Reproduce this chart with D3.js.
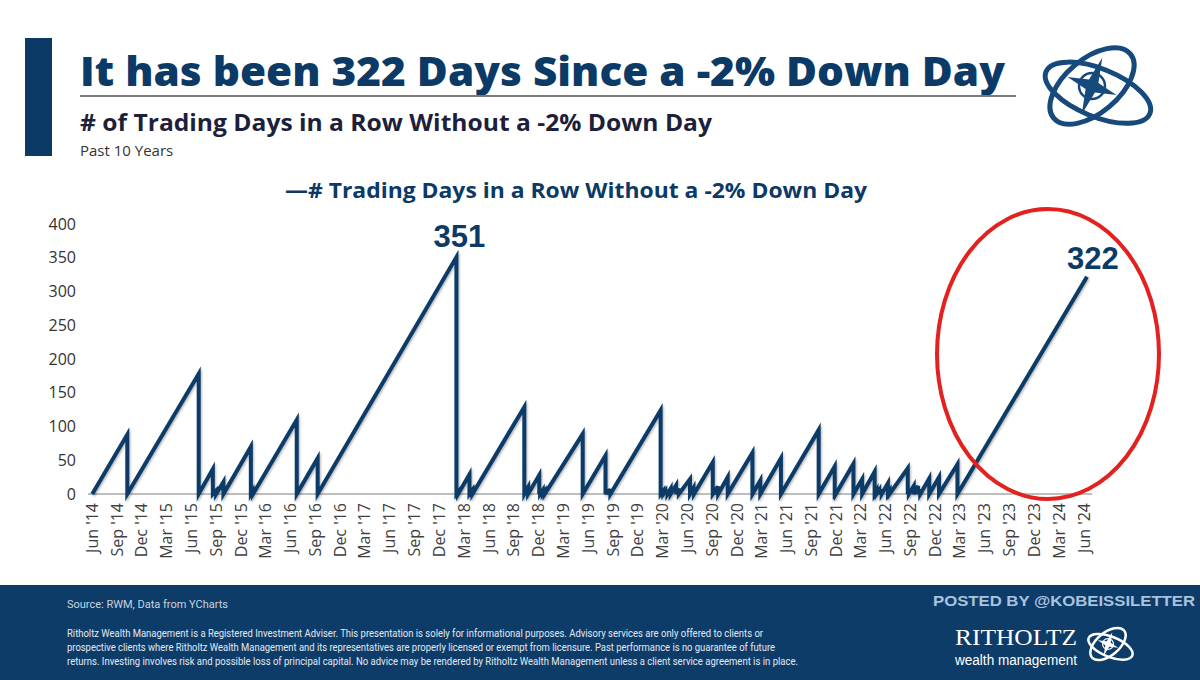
<!DOCTYPE html>
<html>
<head>
<meta charset="utf-8">
<script src="https://cdn.jsdelivr.net/npm/d3@7"></script>
<style>
body { margin: 0; background: #fff; }
</style>
</head>
<body>
<script>
//streak data
var startDate = "2014-06-02";
//days with a -2% drop and the streak count reached on that day
var dropDates = ["2014-10-09","2015-06-29","2015-08-20","2015-09-01","2015-09-28","2016-01-07","2016-01-13","2016-01-15",
    "2016-06-24","2016-09-09","2018-02-02","2018-02-08","2018-03-22","2018-04-02","2018-10-10","2018-10-24",
    "2018-12-04","2018-12-07","2018-12-17","2018-12-24","2019-05-13","2019-08-05","2019-08-14","2019-08-23",
    "2020-02-24","2020-03-05","2020-03-12","2020-03-20","2020-04-01","2020-04-21","2020-05-01","2020-06-11",
    "2020-06-24","2020-06-26","2020-09-03","2020-09-08","2020-09-23","2020-10-28","2021-01-27","2021-02-25",
    "2021-05-12","2021-09-28","2021-11-26","2021-11-30","2022-02-03","2022-03-07","2022-04-22","2022-04-29",
    "2022-05-09","2022-05-18","2022-06-10","2022-06-16","2022-08-22","2022-08-26","2022-09-13","2022-09-29",
    "2022-10-07","2022-11-09","2022-12-15","2023-02-21"];
var dropValues = [88, 178, 37, 5, 18, 70, 4, 2,
    110, 53, 351, 3, 29, 6, 129, 10,
    28, 3, 6, 4, 89, 57, 7, 7,
    124, 5, 4, 6, 8, 13, 8, 22,
    9, 2, 47, 3, 11, 25, 61, 20,
    53, 95, 41, 2, 45, 22, 33, 5,
    6, 7, 16, 4, 38, 4, 12, 12,
    6, 23, 25, 44];
var lastDate = "2024-06-12";
var lastValue = 322;

var xTickLabels = ["Jun '14","Sep '14","Dec '14",
    "Mar '15","Jun '15","Sep '15","Dec '15",
    "Mar '16","Jun '16","Sep '16","Dec '16",
    "Mar '17","Jun '17","Sep '17","Dec '17",
    "Mar '18","Jun '18","Sep '18","Dec '18",
    "Mar '19","Jun '19","Sep '19","Dec '19",
    "Mar '20","Jun '20","Sep '20","Dec '20",
    "Mar '21","Jun '21","Sep '21","Dec '21",
    "Mar '22","Jun '22","Sep '22","Dec '22",
    "Mar '23","Jun '23","Sep '23","Dec '23",
    "Mar '24","Jun '24"];
var yTicks = [0, 50, 100, 150, 200, 250, 300, 350, 400];

var disclaimer = [
    "Ritholtz Wealth Management is a Registered Investment Adviser. This presentation is solely for informational purposes. Advisory services are only offered to clients or",
    "prospective clients where Ritholtz Wealth Management and its representatives are properly licensed or exempt from licensure. Past performance is no guarantee of future",
    "returns. Investing involves risk and possible loss of principal capital. No advice may be rendered by Ritholtz Wealth Management unless a client service agreement is in place."
];

var w = 1200, h = 680;
var navy = "#0c3a66";

window.onload = function(){

    var parseDay = d3.timeParse("%Y-%m-%d");
    var parseTick = d3.timeParse("%b '%y");

    var svg = d3.select("body")
        .append("svg")
        .attr("width", w)
        .attr("height", h)
        .style("font-family", "'Open Sans', sans-serif");

    //shadow under the line
    var defs = svg.append("defs");
    defs.append("filter")
        .attr("id", "shadow")
        .attr("x", "-5%").attr("y", "-5%").attr("width", "110%").attr("height", "110%")
        .append("feDropShadow")
        .attr("dx", 1).attr("dy", 1.5)
        .attr("stdDeviation", 1.2)
        .attr("flood-color", "#000")
        .attr("flood-opacity", 0.3);

    //stretch a text to a given width
    function fit(sel, width){
        sel.attr("textLength", width).attr("lengthAdjust", "spacingAndGlyphs");
        return sel;
    }

    //header
    svg.append("rect")
        .attr("x", 25).attr("y", 38)
        .attr("width", 27).attr("height", 118)
        .style("fill", navy);

    fit(svg.append("text")
        .attr("x", 80).attr("y", 86)
        .style("font-size", "41px")
        .style("font-weight", 800)
        .style("fill", navy)
        .text("It has been 322 Days Since a -2% Down Day"), 925);

    svg.append("line")
        .attr("x1", 80).attr("x2", 1016)
        .attr("y1", 96).attr("y2", 96)
        .style("stroke", "#7a7a7a")
        .style("stroke-width", 2);

    fit(svg.append("text")
        .attr("x", 80).attr("y", 131)
        .style("font-size", "24px")
        .style("font-weight", 700)
        .style("fill", "#1d1f3b")
        .text("# of Trading Days in a Row Without a -2% Down Day"), 632);

    svg.append("text")
        .attr("x", 80).attr("y", 156)
        .style("font-size", "15px")
        .style("fill", "#333")
        .text("Past 10 Years");

    //logo, top right
    function drawLogo(g, color, sw){
        g.append("ellipse")
            .attr("rx", 50).attr("ry", 27)
            .attr("transform", "rotate(-40)")
            .style("fill", "none").style("stroke", color).style("stroke-width", sw);
        g.append("ellipse")
            .attr("cx", 8).attr("cy", 4)
            .attr("rx", 56).attr("ry", 24)
            .attr("transform", "rotate(22)")
            .style("fill", "none").style("stroke", color).style("stroke-width", sw);
        g.append("path")
            .attr("d", "M0,-30 L5,-5 L26,0 L5,5 L0,30 L-5,5 L-26,0 L-5,-5 Z")
            .attr("transform", "rotate(20)")
            .style("fill", color);
        g.append("circle")
            .attr("r", 13)
            .style("fill", "none").style("stroke", color).style("stroke-width", sw * 0.5);
    }
    drawLogo(svg.append("g").attr("transform", "translate(1092,86)"), "#174a7c", 5);

    //scales
    var x = d3.scaleTime()
        .domain([parseTick(xTickLabels[0]), parseTick(xTickLabels[xTickLabels.length - 1])])
        .range([92, 1084]);
    var y = d3.scaleLinear()
        .domain([0, 400])
        .range([494, 224]);

    //legend
    var legend = svg.append("text")
        .attr("x", 576).attr("y", 198)
        .attr("text-anchor", "middle")
        .style("font-size", "21px")
        .style("font-weight", 700)
        .style("fill", navy);
    fit(legend.text("\u2014# Trading Days in a Row Without a -2% Down Day"), 582);

    //y axis labels
    svg.append("g")
        .selectAll("text")
        .data(yTicks)
        .enter()
        .append("text")
        .attr("x", 76)
        .attr("y", function(d){ return y(d); })
        .attr("dy", "0.35em")
        .attr("text-anchor", "end")
        .style("font-size", "16px")
        .style("fill", "#333")
        .text(function(d){ return d; });

    //baseline
    svg.append("line")
        .attr("x1", 88).attr("x2", 1092)
        .attr("y1", y(0)).attr("y2", y(0))
        .style("stroke", "#7f7f7f")
        .style("stroke-width", 1.2);

    //x axis labels
    svg.append("g")
        .selectAll("text")
        .data(xTickLabels)
        .enter()
        .append("text")
        .attr("transform", function(d){
            return "translate(" + x(parseTick(d)) + "," + 503 + ") rotate(-90)";
        })
        .attr("dy", "0.36em")
        .attr("text-anchor", "end")
        .style("font-size", "16px")
        .style("fill", "#404040")
        .text(function(d){ return d; });

    //build the sawtooth line
    var pts = [{date: parseDay(startDate), value: 0}];
    dropDates.forEach(function(d, i){
        var dt = parseDay(d);
        pts.push({date: dt, value: dropValues[i]});
        pts.push({date: dt, value: 0});
    });
    var endPt = {date: parseDay(lastDate), value: lastValue};
    pts.push(endPt);

    var line = d3.line()
        .x(function(d){ return x(d.date); })
        .y(function(d){ return y(d.value); });

    svg.append("path")
        .datum(pts)
        .attr("d", line)
        .attr("filter", "url(#shadow)")
        .style("fill", "none")
        .style("stroke", "#0b3b68")
        .style("stroke-width", 4)
        .style("stroke-linejoin", "miter");

    //call-outs
    var maxIdx = d3.maxIndex(dropValues);
    svg.append("text")
        .attr("x", x(parseDay(dropDates[maxIdx])) + 3)
        .attr("y", y(dropValues[maxIdx]) - 10)
        .attr("text-anchor", "middle")
        .style("font-family", "'Liberation Sans', Arial, sans-serif")
        .style("font-size", "31px")
        .style("font-weight", 700)
        .style("fill", navy)
        .text(dropValues[maxIdx]);

    svg.append("text")
        .attr("x", x(endPt.date) + 6)
        .attr("y", y(endPt.value) - 8)
        .attr("text-anchor", "middle")
        .style("font-family", "'Liberation Sans', Arial, sans-serif")
        .style("font-size", "31px")
        .style("font-weight", 700)
        .style("fill", navy)
        .text(lastValue);

    //red circle round the current streak
    svg.append("ellipse")
        .attr("cx", 1048).attr("cy", 354)
        .attr("rx", 111).attr("ry", 145)
        .style("fill", "none")
        .style("stroke", "#e3211e")
        .style("stroke-width", 4);

    //footer
    svg.append("rect")
        .attr("x", 0).attr("y", 585)
        .attr("width", w).attr("height", h - 585)
        .style("fill", "#0d3c69");

    svg.append("text")
        .attr("x", 67).attr("y", 608)
        .style("font-family", "Roboto, sans-serif")
        .style("font-size", "11px")
        .style("fill", "#c9d3df")
        .text("Source: RWM, Data from YCharts");

    var lineEnds = [696, 708, 731];
    svg.append("g")
        .selectAll("text")
        .data(disclaimer)
        .enter()
        .append("text")
        .attr("x", 67)
        .attr("y", function(d, i){ return 637 + i * 14; })
        .attr("textLength", function(d, i){ return lineEnds[i]; })
        .attr("lengthAdjust", "spacingAndGlyphs")
        .style("font-family", "Roboto, sans-serif")
        .style("font-size", "11px")
        .style("fill", "#e4e9f0")
        .text(function(d){ return d; });

    fit(svg.append("text")
        .attr("x", 933).attr("y", 606)
        .style("font-family", "'Liberation Sans', Arial, sans-serif")
        .style("font-size", "15px")
        .style("font-weight", 700)
        .style("fill", "#a9c2de")
        .text("POSTED BY @KOBEISSILETTER"), 262);

    fit(svg.append("text")
        .attr("x", 955).attr("y", 645)
        .style("font-family", "'Liberation Serif', serif")
        .style("font-size", "23px")
        .style("fill", "#fff")
        .text("RITHOLTZ"), 122);

    fit(svg.append("text")
        .attr("x", 955).attr("y", 665)
        .style("font-family", "'Liberation Sans', Arial, sans-serif")
        .style("font-size", "14px")
        .style("fill", "#fff")
        .text("wealth management"), 122);

    drawLogo(svg.append("g").attr("transform", "translate(1108,644) scale(0.42)"), "#fff", 6);
};
</script>
</body>
</html>
